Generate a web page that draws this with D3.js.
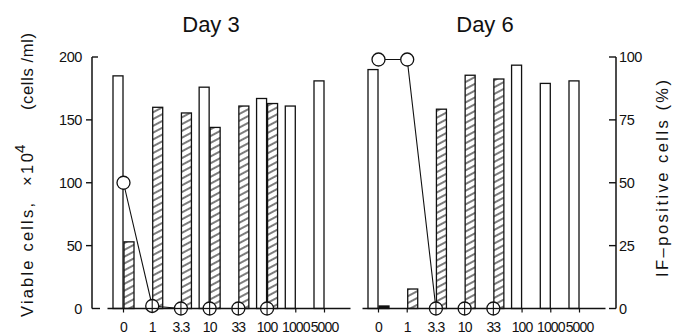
<!DOCTYPE html>
<html><head><meta charset="utf-8">
<script src="https://cdn.jsdelivr.net/npm/d3@7"></script>
<style>body{margin:0;background:#fff} svg{display:block}</style>
</head><body><svg id="c" width="675" height="336"></svg>
<script>
// ---- data ----
const categories = ["0","1","3.3","10","33","100","1000","5000"];
const leftTicks = [0,50,100,150,200];
const rightTicks = [0,25,50,75,100];
const panelTitles = ["Day 3","Day 6"];
const day3Open    = [185, null, null, 176, null, 167, 161, 181];
const day3Hatched = [53, 160, 155.5, 144, 161, 163, null, null];
const day3IF      = [50, 1, 0, 0, 0, 0, null, null];
const day6Open    = [190, null, null, null, null, 193.5, 179, 181];
const day6Hatched = [2, 15.5, 158.5, 185.5, 182.5, null, null, null];
const day6IF      = [99, 99, 0, 0, 0, null, null, null];

const panels = [
  {title: panelTitles[0], open: day3Open, hatched: day3Hatched, ifp: day3IF, range: [123.5, 324.5], tx: 211},
  {title: panelTitles[1], open: day6Open, hatched: day6Hatched, ifp: day6IF, range: [378.5, 579.5], tx: 485}
];

const svg = d3.select("#c");
const font = "'Liberation Sans', Arial, sans-serif";
const y = d3.scaleLinear().domain([0,200]).range([308.5, 57]);
const yr = d3.scaleLinear().domain([0,100]).range([308.5, 57]);

const defs = svg.append("defs");
const pat = defs.append("pattern").attr("id","hatch").attr("patternUnits","userSpaceOnUse")
  .attr("width",8).attr("height",6).attr("patternTransform","rotate(-28)");
pat.append("rect").attr("width",8).attr("height",6).attr("fill","#fff");
pat.append("line").attr("x1",0).attr("y1",3).attr("x2",8).attr("y2",3)
  .attr("stroke","#111").attr("stroke-width",1.1);

panels.forEach(p => {
  const x = d3.scalePoint().domain(categories).range(p.range);
  const g = svg.append("g");
  g.append("text").attr("x",p.tx).attr("y",32).attr("text-anchor","middle")
    .attr("font-family",font).attr("font-size",22).attr("fill","#111").text(p.title);
  categories.forEach((c,i) => {
    const t = x(c);
    if (p.open[i] != null) {
      g.append("rect").attr("x",t-10.5).attr("y",y(p.open[i])).attr("width",10)
        .attr("height",y(0)-y(p.open[i])).attr("fill","#fff").attr("stroke","#111").attr("stroke-width",1.3);
    }
    if (p.hatched[i] != null) {
      const h = y(0)-y(p.hatched[i]);
      g.append("rect").attr("x",t+0.5).attr("y",y(p.hatched[i])).attr("width",10)
        .attr("height",h).attr("fill", h < 5 ? "#111" : "url(#hatch)").attr("stroke","#111").attr("stroke-width",1.3);
    }
  });
  g.append("line").attr("x1",p.range[0]-16).attr("x2",p.range[1]+26)
    .attr("y1",y(0)).attr("y2",y(0)).attr("stroke","#111").attr("stroke-width",1.5);
  categories.forEach(c => {
    g.append("line").attr("x1",x(c)).attr("x2",x(c)).attr("y1",y(0)).attr("y2",y(0)+4)
      .attr("stroke","#111").attr("stroke-width",1.2);
    g.append("text").attr("x",x(c)).attr("y",332).attr("text-anchor","middle")
      .attr("font-family",font).attr("font-size",14).attr("letter-spacing",-0.9).attr("fill","#111").text(c);
  });
  const pts = categories.map((c,i) => ({c, v: p.ifp[i]})).filter(d => d.v != null);
  g.append("path").datum(pts)
    .attr("d", d3.line().x(d => x(d.c)).y(d => yr(d.v)))
    .attr("fill","none").attr("stroke","#111").attr("stroke-width",1.1);
  pts.forEach(d => {
    const cx = x(d.c), cy = yr(d.v), r = 6.5;
    g.append("circle").attr("cx",cx).attr("cy",cy).attr("r",r)
      .attr("fill","#fff").attr("stroke","#111").attr("stroke-width",1.3);
    if (d.v < 3) {
      g.append("line").attr("x1",cx-r).attr("x2",cx+r).attr("y1",y(0)).attr("y2",y(0))
        .attr("stroke","#111").attr("stroke-width",1.3);
      g.append("line").attr("x1",cx).attr("x2",cx).attr("y1",cy-r).attr("y2",cy+r)
        .attr("stroke","#111").attr("stroke-width",1.1);
    }
  });
});

// left axis
const la = svg.append("g");
la.append("line").attr("x1",92).attr("x2",92).attr("y1",y(200)).attr("y2",y(0))
  .attr("stroke","#111").attr("stroke-width",1.5);
leftTicks.forEach(v => {
  const right = (v === 0 || v === 200);
  la.append("line").attr("x1", right ? 92 : 86).attr("x2", right ? (v===0 ? 100 : 98) : 92)
    .attr("y1",y(v)).attr("y2",y(v)).attr("stroke","#111").attr("stroke-width",1.4);
  la.append("text").attr("x",82).attr("y",y(v)+5).attr("text-anchor","end")
    .attr("font-family",font).attr("font-size",14.5).attr("letter-spacing",-0.4).attr("fill","#111").text(v);
});

// right axis
const ra = svg.append("g");
ra.append("line").attr("x1",616).attr("x2",616).attr("y1",yr(100)).attr("y2",yr(0))
  .attr("stroke","#111").attr("stroke-width",1.5);
rightTicks.forEach(v => {
  ra.append("line").attr("x1",609).attr("x2",616).attr("y1",yr(v)).attr("y2",yr(v))
    .attr("stroke","#111").attr("stroke-width",1.4);
  ra.append("text").attr("x",619).attr("y",yr(v)+5).attr("text-anchor","start")
    .attr("font-family",font).attr("font-size",14.5).attr("letter-spacing",-0.4).attr("fill","#111").text(v);
});

// axis titles
function rtext(xb, ybot, len, str, size) {
  svg.append("text").attr("transform",`translate(${xb},${ybot}) rotate(-90)`)
    .attr("font-family",font).attr("font-size",size).attr("fill","#111")
    .attr("textLength",len).attr("lengthAdjust","spacing").text(str);
}
rtext(33, 317, 114, "Viable cells,", 16.5);
rtext(33, 186, 33, "×10", 16.5);
rtext(25, 153, 11, "4", 15);
rtext(33, 110, 77, "(cells /ml)", 16.5);
rtext(668, 277, 197, "IF–positive cells  (%)", 16.5);
</script></body></html>
